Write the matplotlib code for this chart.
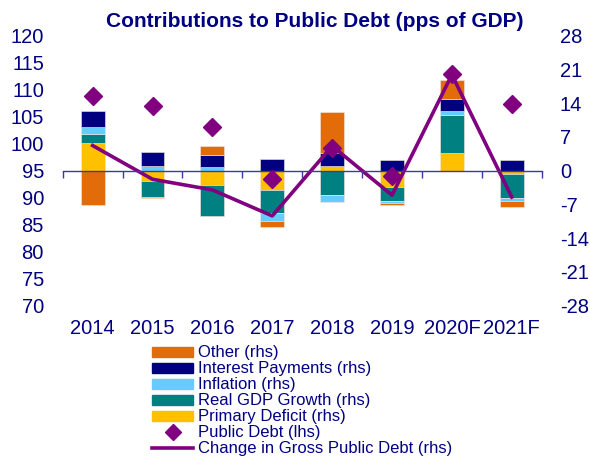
import numpy as np
import matplotlib
matplotlib.use("Agg")
import matplotlib.pyplot as plt
import matplotlib.patches as mpatches
from matplotlib.lines import Line2D

plt.rcParams['font.family'] = ['Liberation Sans', 'DejaVu Sans']
plt.rcParams['axes.unicode_minus'] = False

# Contribuciones a la deuda pública (pps del PIB), eje derecho
years = ['2014', '2015', '2016', '2017', '2018', '2019', '2020F', '2021F']
primary_deficit = [5.7, -2.1, -2.9, -4.0, 1.0, -3.5, 3.7, -0.7]
real_gdp_growth = [1.9, -3.4, -6.5, -4.7, -5.0, -2.8, 7.8, -5.0]
inflation = [1.5, 1.0, 0.8, -1.8, -1.5, -0.4, 0.8, -0.7]
interest_payments = [3.2, 2.8, 2.4, 2.4, 2.7, 2.2, 2.6, 2.1]
other = [-7.1, -0.1, 1.9, -1.3, 8.4, -0.5, 3.9, -1.2]
change_debt = [5.2, -1.8, -4.0, -9.4, 5.1, -5.1, 19.9, -5.5]

# Deuda pública (% del PIB), eje izquierdo
public_debt = [108.9, 107.0, 103.0, 93.5, 99.1, 94.0, 112.9, 107.3]

navy = '#000080'
axis_col = '#3a3aa0'
purple = '#800080'

series = [
    ('Primary Deficit (rhs)', primary_deficit, '#FFC000'),
    ('Real GDP Growth (rhs)', real_gdp_growth, '#008080'),
    ('Inflation (rhs)', inflation, '#66CCFF'),
    ('Interest Payments (rhs)', interest_payments, navy),
    ('Other (rhs)', other, '#E36C0A'),
]

fig = plt.figure(figsize=(5.9, 4.59), dpi=100)
W, H = 590, 459
ax = fig.add_axes([62.7 / W, 1 - 305.5 / H, 479 / W, (305.5 - 35.7) / H])
ax2 = ax.twinx()

x = np.arange(len(years))
width = 0.4

# barras apiladas: positivas hacia arriba, negativas hacia abajo
pos_base = np.zeros(len(years))
neg_base = np.zeros(len(years))
handles = {}
for label, vals, col in series:
    vals = np.array(vals, dtype=float)
    base = np.where(vals >= 0, pos_base, neg_base)
    ax2.bar(x, vals, width, bottom=base, color=col, edgecolor='#f4e8dc',
            linewidth=0.4, zorder=2)
    pos_base += np.clip(vals, 0, None)
    neg_base += np.clip(vals, None, 0)
    handles[label] = mpatches.Patch(color=col, label=label)

ax2.plot(x, change_debt, color=purple, lw=2.6, zorder=3)
ax.plot(x, public_debt, 'D', color=purple, markersize=9, zorder=4)

ax.set_xlim(-0.5, len(years) - 0.5)
ax.set_ylim(70, 120)
ax.set_yticks(np.arange(70, 121, 5))
ax2.set_ylim(-28, 28)
ax2.set_yticks(np.arange(-28, 29, 7))

ax.set_zorder(ax2.get_zorder() + 1)
ax.patch.set_visible(False)

for a in (ax, ax2):
    for s in a.spines.values():
        s.set_visible(False)

ax.tick_params(axis='y', length=0, pad=13.5, labelsize=14.5, labelcolor=navy)
ax2.tick_params(axis='y', length=0, pad=13, labelsize=14.5, labelcolor=navy)
ax.set_xticks(x, years)
ax.tick_params(axis='x', length=0, pad=10, labelsize=14.5, labelcolor=navy)

# línea del eje en el cero del eje derecho, con marcas entre categorías
zero_pos = (0 - ax2.get_ylim()[0]) / (ax2.get_ylim()[1] - ax2.get_ylim()[0])
sec = ax.secondary_xaxis(zero_pos)
sec.set_alignment('bottom')
sec.set_xticks(np.arange(-0.5, len(years), 1))
sec.tick_params(axis='x', direction='out', length=5, width=1, color=axis_col,
                labelbottom=False, labeltop=False)
sec.spines['bottom'].set_color(axis_col)
sec.spines['bottom'].set_linewidth(1)

ax.set_title('Contributions to Public Debt (pps of GDP)', fontsize=15,
             fontweight='bold', color=navy, pad=6, x=0.527)

legend_handles = [handles['Other (rhs)'], handles['Interest Payments (rhs)'],
                  handles['Inflation (rhs)'], handles['Real GDP Growth (rhs)'],
                  handles['Primary Deficit (rhs)'],
                  Line2D([], [], marker='D', ls='none', color=purple,
                         markersize=8, label='Public Debt (lhs)'),
                  Line2D([], [], color=purple, lw=2.6,
                         label='Change in Gross Public Debt (rhs)')]
leg = fig.legend(handles=legend_handles, loc='upper left',
                 bbox_to_anchor=(151.7 / W, 1 - 345.5 / H), frameon=False,
                 fontsize=12, borderpad=0, borderaxespad=0, handlelength=2.5,
                 handleheight=0.53, handletextpad=0.3, labelspacing=0.06)
for t in leg.get_texts():
    t.set_color(navy)

fig.savefig('out.png', dpi=100, facecolor='white')
